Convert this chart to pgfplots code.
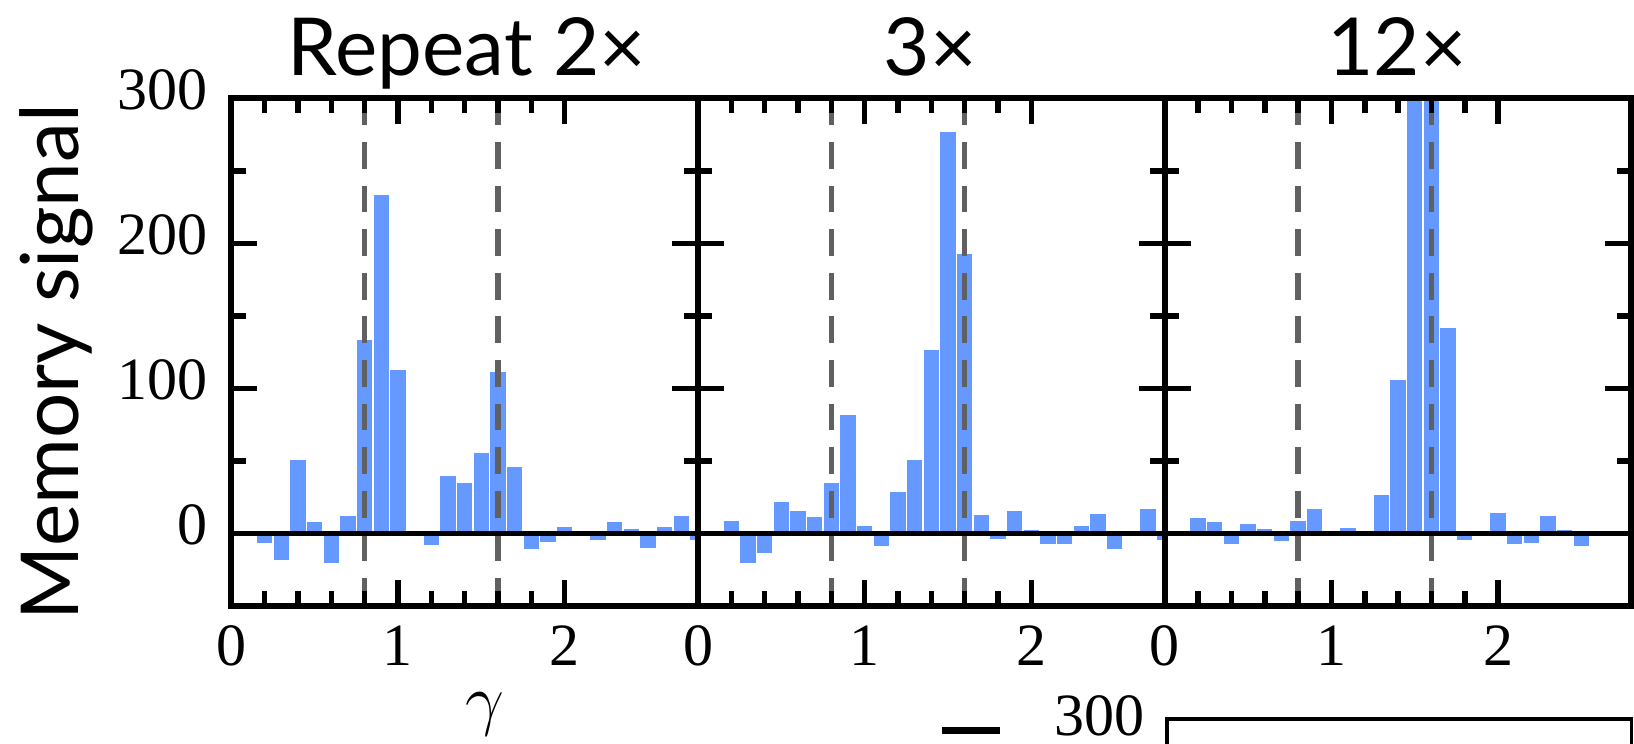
\documentclass[border=0pt]{standalone}
\usepackage{fontspec}
\usepackage{pgfplots}
\usepackage{pgfplotstable}
\pgfplotsset{compat=1.18}
\setmainfont{Liberation Serif}
\newfontfamily\tmsfont{Liberation Serif}
\newfontfamily\gillfont{Lato}
\definecolor{barblue}{HTML}{6699FF}
\definecolor{dashgray}{HTML}{606060}

% memory signal per gamma bin, one column per repeat count
\pgfplotstableread{
g    two    three  twelve
0.1  0      0      0
0.2  -7     9      11
0.3  -19    -21    8
0.4  51     -14    -7.5
0.5  8.5    22     7
0.6  -20.7  16     3.5
0.7  12.6   12     -6
0.8  134    35     9
0.9  234    82     17
1.0  113    5.5    0
1.1  0      -9     4
1.2  -8.5   29     0
1.3  40     51     27
1.4  35     127    106
1.5  56     277    420
1.6  112    193    360
1.7  46     13     142
1.8  -11    -4.5   -5
1.9  -6.5   15.5   0
2.0  5      3      14.5
2.1  0      -7.5   -7.5
2.2  -5     -7.5   -7
2.3  8.5    5.5    12.5
2.4  3.5    14     3
2.5  -10.5  -11.5  -9
2.6  5      0      0
2.7  12.5   17     0
2.8  -5     -5     0
}\memdata

\pgfplotsset{
  memaxis/.style={
    scale only axis,
    width=116.67pt, height=126.875pt,
    anchor=south west,
    xmin=0, xmax=2.8, ymin=-50, ymax=300,
    xtick={0,1,2}, minor x tick num=4,
    ytick={0,100,200,300}, minor y tick num=1,
    tick align=inside,
    major tick length=6.5pt, minor tick length=3.6pt,
    every tick/.style={black, line width=1.4pt},
    major tick style={black, line width=1.4pt},
    minor tick style={black, line width=1.4pt},
    line width=1.5pt,
    axis line style={line width=1.5pt},
    axis on top,
    /pgf/number format/assume math mode=true,
    ticklabel style={font=\tmsfont\fontsize{15}{15}\selectfont},
    xticklabel style={inner sep=0pt, yshift=-4.25pt},
    yticklabel style={inner sep=0pt, xshift=-5.3pt, yshift=2pt},
  },
  membars/.style={ybar, bar width=0.1, bar shift=0pt, fill=barblue, draw=white, line width=0.3pt},
  memdash/.style={dashgray, line width=1.4pt, dash pattern=on 6.7pt off 4.2pt},
}

\begin{document}
\begin{tikzpicture}

\begin{axis}[memaxis, at={(57.83pt,-151.45pt)}]
\addplot[membars] table[x=g, y=two] {\memdata};
\addplot[memdash] coordinates {(0.8,300) (0.8,-50)};
\addplot[memdash] coordinates {(1.6,300) (1.6,-50)};
\addplot[black, line width=1.4pt] coordinates {(0,0) (2.8,0)};
\end{axis}

\begin{axis}[memaxis, at={(174.5pt,-151.45pt)}, yticklabels={}]
\addplot[membars] table[x=g, y=three] {\memdata};
\addplot[memdash] coordinates {(0.8,300) (0.8,-50)};
\addplot[memdash] coordinates {(1.6,300) (1.6,-50)};
\addplot[black, line width=1.4pt] coordinates {(0,0) (2.8,0)};
\end{axis}

\begin{axis}[memaxis, at={(291.17pt,-151.45pt)}, yticklabels={}]
\addplot[membars] table[x=g, y=twelve] {\memdata};
\addplot[memdash] coordinates {(0.8,300) (0.8,-50)};
\addplot[memdash] coordinates {(1.6,300) (1.6,-50)};
\addplot[black, line width=1.4pt] coordinates {(0,0) (2.8,0)};
\end{axis}

% titles and labels
\node[anchor=base, font=\gillfont\fontsize{20}{20}\selectfont] at (116.75pt,-18.75pt) {Repeat 2×};
\node[anchor=base, font=\gillfont\fontsize{20}{20}\selectfont] at (232.5pt,-18.75pt) {3×};
\node[anchor=base, font=\gillfont\fontsize{20}{20}\selectfont] at (349.25pt,-18.75pt) {12×};
\node[rotate=90, anchor=base, font=\gillfont\fontsize{20}{20}\selectfont] at (19.5pt,-90.5pt) {Memory signal};
\node[anchor=base, font=\fontsize{18.5}{18.5}\selectfont] at (121.25pt,-180.5pt) {$\gamma$};

% pieces of the next figure, cut off by the frame
\fill[black] (235.5pt,-181.75pt) rectangle (250pt,-183.5pt);
\node[anchor=base east, inner sep=0pt, font=\tmsfont\fontsize{15}{15}\selectfont] at (286.25pt,-183.75pt) {300};
\draw[line width=0.9pt] (291.75pt,-200pt) -- (291.75pt,-179.75pt) -- (407.9pt,-179.75pt) -- (407.9pt,-200pt);

\pgfresetboundingbox
\path[use as bounding box] (0,0) rectangle (408.5pt,-185.75pt);
\end{tikzpicture}
\end{document}
